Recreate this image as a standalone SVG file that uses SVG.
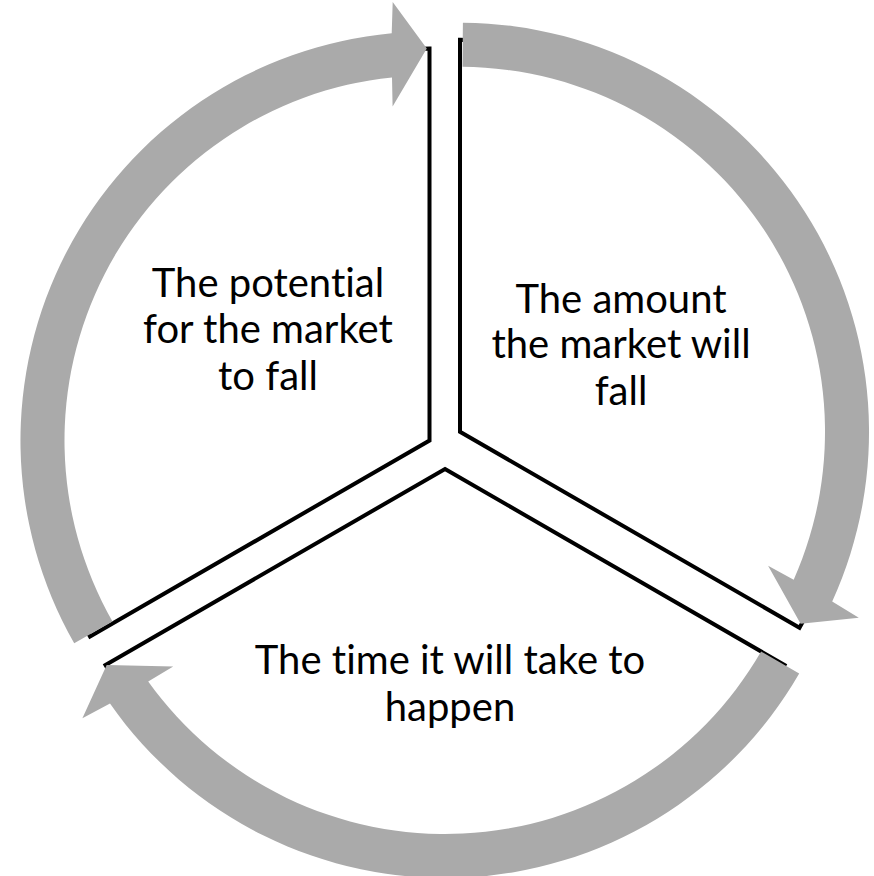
<svg xmlns="http://www.w3.org/2000/svg" width="874" height="876" viewBox="0 0 874 876">
<style>
.seg{fill:#ffffff;stroke:#000000;stroke-width:4;stroke-linejoin:miter}
.arr{fill:#AAAAAA;stroke:none}
.lbl{font-family:Lato,"Liberation Sans",sans-serif;font-size:40px;fill:#000000;text-anchor:middle;font-variant-ligatures:none;font-feature-settings:"liga" 0,"clig" 0,"dlig" 0}
</style>
<g id="segments">
<g id="node-potential"><path class="seg" d="M429.5,440.5 L429.5,48.5 A392,392 0 0 0 90,636.5 Z"/></g>
<g id="node-amount"><path class="seg" d="M460,431.8 L460,39.8 A392,392 0 0 1 799.5,627.8 Z"/></g>
<g id="node-time"><path class="seg" d="M445,469 L784.5,665 A392,392 0 0 1 105.5,665 Z"/></g>
</g>
<g id="connectors">
<path id="arrow-a" class="arr" d="M74.2,643.2 A409,409 0 0 1 391.7,33.3 L392.7,2 L426.8,48.5 L392.6,106.5 L392,77.4 A365,365 0 0 0 112.5,621.4 Z"/>
<path id="arrow-b" class="arr" d="M462.9,22.8 A409,409 0 0 1 832.2,601.4 L858.8,617.7 L800.6,623.7 L768.1,565.8 L793.7,579.7 A365,365 0 0 0 462.5,66.8 Z"/>
<path id="arrow-c" class="arr" d="M799.2,673.5 A409,409 0 0 1 110,703.6 L82.4,718.2 L106.7,665.1 L173.2,666.5 L148.2,681.5 A365,365 0 0 0 761.1,651.5 Z"/>
</g>
<g id="labels">
<text class="lbl" x="268" y="296.7">The potential</text>
<text class="lbl" x="268" y="343">for the market</text>
<text class="lbl" x="268" y="389.5">to fall</text>
<text class="lbl" x="621" y="312.7">The amount</text>
<text class="lbl" x="621" y="358">the market will</text>
<text class="lbl" x="621" y="405">fall</text>
<text class="lbl" x="450" y="674.3">The time it will take to</text>
<text class="lbl" x="450" y="721">happen</text>
</g>
</svg>
